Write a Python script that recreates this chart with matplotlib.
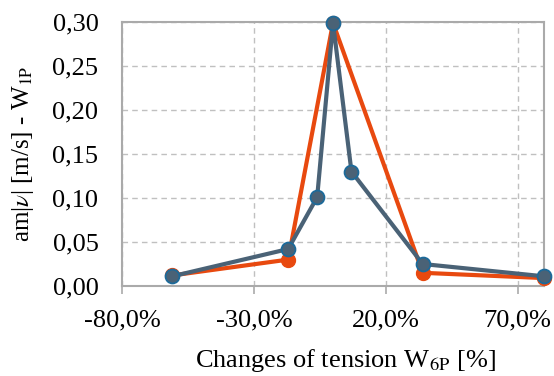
import matplotlib
matplotlib.use('Agg')
import matplotlib.pyplot as plt
from matplotlib.ticker import FuncFormatter

plt.rcParams['font.family'] = ['Liberation Serif', 'DejaVu Serif']
plt.rcParams['mathtext.fontset'] = 'stix'

# changes of tension W6P [%]
x_orange = [-61, -17, 0, 34, 80]
y_orange = [0.012, 0.030, 0.299, 0.015, 0.009]

x_blue = [-61, -17, -6, 0, 7, 34, 80]
y_blue = [0.011, 0.042, 0.101, 0.299, 0.130, 0.025, 0.011]

xticks = [-80, -30, 20, 70]
yticks = [0.0, 0.05, 0.10, 0.15, 0.20, 0.25, 0.30]

fig = plt.figure(figsize=(5.54, 3.76), dpi=100)
ax = fig.add_axes([122 / 554, 1 - 286 / 376, 422 / 554, 264 / 376])

ax.plot(x_orange, y_orange, '-o', color='#e8490f', lw=3, ms=10,
        mfc='#e8490f', mec='#e8490f', zorder=3, clip_on=False)
ax.plot(x_blue, y_blue, '-o', color='#4a6276', lw=3, ms=10,
        mfc='#4a6276', mec='#1c6a9a', mew=1.3, zorder=4, clip_on=False)

ax.set_xlim(-80, 80)
ax.set_ylim(0, 0.30)
ax.set_xticks(xticks)
ax.set_yticks(yticks)
ax.xaxis.set_major_formatter(FuncFormatter(lambda v, p: ('%.1f%%' % v).replace('.', ',')))
ax.yaxis.set_major_formatter(FuncFormatter(lambda v, p: ('%.2f' % v).replace('.', ',')))

ax.grid(True, color='#c0c0c0', linestyle=(0, (4, 3)), lw=1)
ax.set_axisbelow(True)
for s in ax.spines.values():
    s.set_color('#aaaaaa')
    s.set_linewidth(1.5)
ax.tick_params(axis='x', direction='out', length=6, color='#aaaaaa', width=1.2,
               labelsize=19, pad=11)
ax.tick_params(axis='y', length=0, labelsize=19, pad=17)

ax.set_xlabel(r'Changes of tension W$_\mathrm{6P}$ [%]', fontsize=19)
ax.xaxis.set_label_coords(0.53, -0.23)
ax.set_ylabel(r'am|$\nu$| [m/s] - W$_\mathrm{1P}$', fontsize=18, labelpad=12)

fig.savefig('out.png', dpi=100)
